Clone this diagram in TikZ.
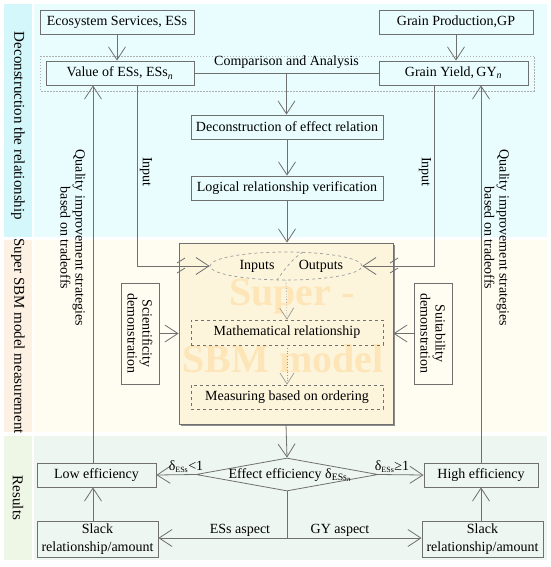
\documentclass[tikz,border=0pt]{standalone}
\usepackage{fontspec}
\setmainfont{Liberation Serif}
\usetikzlibrary{arrows.meta,shapes.geometric,calc}
\definecolor{lg}{HTML}{707070}
\definecolor{dg}{HTML}{9A9A9A}
\definecolor{cyS}{HTML}{D3F7FA}
\definecolor{cyM}{HTML}{EAFDFE}
\definecolor{orS}{HTML}{FDF1E3}
\definecolor{orM}{HTML}{FFFDF2}
\definecolor{grS}{HTML}{EEF7E6}
\definecolor{grM}{HTML}{EEF6F1}
\definecolor{sbmF}{HTML}{FCF5DC}
\definecolor{wm}{HTML}{FDE5B8}
\begin{document}
\begin{tikzpicture}[x=1pt,y=-1pt,
  every node/.style={font=\fontsize{14}{16}\selectfont, text=black},
  bx/.style={draw=lg, line width=0.8pt, inner sep=0pt, minimum height=24pt},
  dbx/.style={draw=lg, line width=0.7pt, dashed, inner sep=0pt, minimum height=24pt},
  ln/.style={draw=lg, line width=0.8pt},
  arr/.style={ln, -{Straight Barb[length=13pt,width=17pt]}},
  darr/.style={draw=dg, line width=0.7pt, dotted, -{Straight Barb[length=11pt,width=14pt]}},
  side/.style={rotate=-90, font=\fontsize{15}{17}\selectfont},
  ]
\useasboundingbox (0,0) rectangle (550,567);
\fill[white] (0,0) rectangle (550,567);
% section backgrounds
\fill[cyS] (4,4) rectangle (32,237);
\fill[cyM] (34,4) rectangle (547,237);
\fill[orS] (4,240) rectangle (32,432);
\fill[orM] (34,240) rectangle (547,432);
\fill[grS] (4,436) rectangle (32,560);
\fill[grM] (34,436) rectangle (547,560);
\node[side] (s1) at (18,126) {Deconstruction the relationship};
\node[side] (s2) at (18,336) {Super SBM model measurement};
\node[side] (s3) at (18,498) {Results};

% section 1
\draw[draw=dg!80, line width=0.7pt, dash pattern=on 1.5pt off 1.5pt] (40,56) rectangle (534,91);
\node[bx, minimum width=154pt] (eco) at (117,22) {Ecosystem Services, ESs};
\node[bx, minimum width=154pt] (gp) at (456,22) {Grain Production,GP};
\node[bx, minimum width=148pt] (val) at (120,73) {Value of ESs, ESs\textsubscript{\textit{n}}};
\node[bx, minimum width=149pt] (gy) at (453.5,73) {Grain Yield,\,GY\textsubscript{\textit{n}}};
\node[bx, minimum width=192pt] (decon) at (287,127) {Deconstruction of effect relation};
\node[bx, minimum width=192pt] (logic) at (287,188) {Logical relationship verification};

% section 2
\fill[lg!80] (181,245) rectangle (395,426);
\node[draw=lg, fill=sbmF, line width=0.8pt, minimum width=214pt, minimum height=181pt, inner sep=0pt] (sbm) at (286,333.5) {};
\node[text=wm, font=\fontsize{40}{40}\selectfont\bfseries] (wm1) at (292,297) {Super -};
\node[text=wm, font=\fontsize{40}{40}\selectfont\bfseries] (wm2) at (283,359) {SBM model};
\node[draw=dg, dashed, line width=0.7pt, ellipse, minimum width=152pt, minimum height=28pt, inner sep=0pt] (ell) at (286,266) {};
\draw[draw=dg, dashed, line width=0.7pt] (303,252) .. controls (293,258) and (284,270) .. (277,280);
\node (inp) at (257,266) {Inputs};
\node (outp) at (321,266) {Outputs};
\node[dbx, minimum width=192pt, minimum height=25pt] (math) at (287,332.5) {Mathematical relationship};
\node[dbx, minimum width=192pt] (meas) at (287,397) {Measuring based on ordering};
\node[bx, minimum width=38pt, minimum height=101pt] (sci) at (140,333.5) {};
\node[rotate=-90, align=center, font=\fontsize{14}{15}\selectfont] (scit) at (sci) {Scientificity\\demonstration};
\node[bx, minimum width=38pt, minimum height=101pt] (suit) at (433,333.5) {};
\node[rotate=-90, align=center, font=\fontsize{14}{15}\selectfont] (suitt) at (suit) {Suitability\\demonstration};

% section 3
\node[draw=lg, line width=0.8pt, diamond, minimum width=182pt, minimum height=33pt, inner sep=0pt] (dia) at (287,474.5) {};
\node (diat) at (290,475) {Effect efficiency δ\textsubscript{ESs\textsubscript{\textit{n}}}};
\node[bx, minimum width=119pt] (low) at (96.5,475) {Low efficiency};
\node[bx, minimum width=114pt] (high) at (481,475) {High efficiency};
\node[bx, minimum width=121pt, minimum height=36pt, align=center, font=\fontsize{14}{18}\selectfont] (slackL) at (97.5,539) {Slack\\relationship/amount};
\node[bx, minimum width=121pt, minimum height=36pt, align=center, font=\fontsize{14}{18}\selectfont] (slackR) at (482.5,539) {Slack\\relationship/amount};

% connectors
\coordinate (inL) at (137,0);
\coordinate (inR) at (434,0);
\coordinate (qL) at (93,0);
\coordinate (qR) at (481,0);
\draw[arr] (eco.south) -- (eco.south |- val.north);
\draw[arr] (gp.south) -- (gp.south |- gy.north);
\draw[ln] (val.east) -- (gy.west) node[midway, above=1pt] (cmpl) {Comparison and Analysis};
\coordinate (cmp) at ($(val.east)!0.5!(gy.west)$);
\draw[arr] (cmp) -- (cmp |- decon.north);
\draw[arr] (decon.south) -- (logic.north);
\draw[arr] (logic.south) -- (logic.south |- sbm.north);
\draw[arr] (val.south -| inL) |- (ell.west);
\draw[arr] (gy.south -| inR) |- (ell.east);
\node[rotate=-90] (inpl) at (146,172) {Input};
\node[rotate=-90] (inpr) at (425,172) {Input};
\draw[ln] (177,263) -- (185,258) (177,273) -- (185,268);
\draw[ln] (390,263) -- (398,258) (390,273) -- (398,268);
\draw[darr] (ell.south) -- (math.north);
\draw[darr] (math.south) -- (meas.north);
\draw[arr] (sci.east) -- (sci.east -| sbm.west);
\draw[arr] (suit.west) -- (suit.west -| sbm.east);
\draw[arr] (sbm.south) -- (dia.north);
\draw[arr] (dia.west) -- (low.east);
\draw[arr] (dia.east) -- (high.west);
\node (ltl) at (186,467) {δ\textsubscript{\fontsize{8}{8}\selectfont ESs}<1};
\node (gtl) at (392,467) {δ\textsubscript{\fontsize{8}{8}\selectfont ESs}≥1};
\draw[arr] (slackL.north -| qL) -- (low.south -| qL);
\draw[arr] (low.north -| qL) -- (val.south -| qL);
\draw[arr] (slackR.north -| qR) -- (high.south -| qR);
\draw[arr] (high.north -| qR) -- (gy.south -| qR);
\node[rotate=-90, align=center, font=\fontsize{14}{15}\selectfont] (ql) at (73,238) {Quality improvement strategies\\based on tradeoffs};
\node[rotate=-90, align=center, font=\fontsize{14}{15}\selectfont] (qr) at (497,238) {Quality improvement strategies\\based on tradeoffs};
\coordinate (bj) at (dia.south |- 0,538);
\draw[ln] (dia.south) -- (bj);
\draw[arr] (bj) -- (bj -| slackL.east);
\draw[arr] (bj) -- (bj -| slackR.west);
\node (esa) at (240,530) {ESs aspect};
\node (gya) at (340,530) {GY aspect};
\end{tikzpicture}
\end{document}
